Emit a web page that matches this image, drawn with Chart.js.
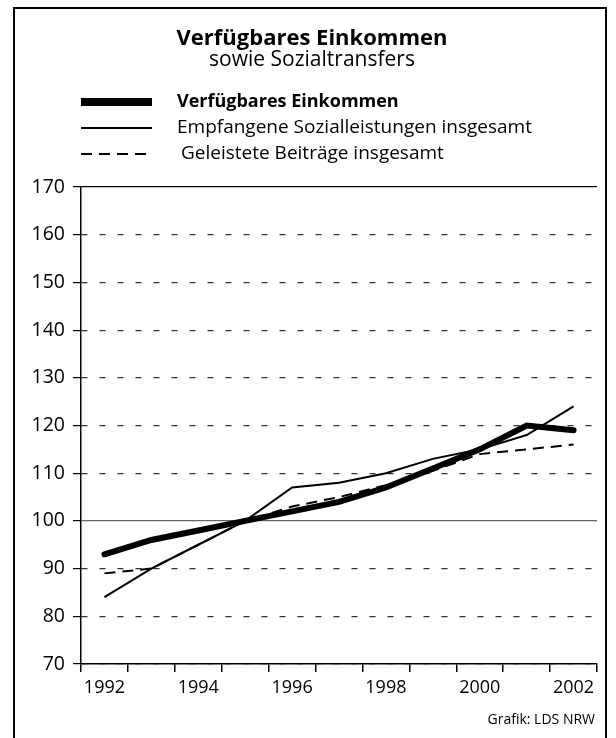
<!DOCTYPE html>
<html>
<head>
<meta charset="utf-8">
<script src="https://cdn.jsdelivr.net/npm/chart.js@4.4.1/dist/chart.umd.min.js"></script>
<style>
  html, body { margin: 0; padding: 0; background: #fff; }
  #wrap { position: relative; width: 616px; height: 738px; }
</style>
</head>
<body>
<div id="wrap"><canvas id="chart" width="616" height="738"></canvas></div>
<script>
// Verfügbares Einkommen sowie Sozialtransfers (Index, 1995 = 100)
var years = ['1992', '1993', '1994', '1995', '1996', '1997', '1998', '1999', '2000', '2001', '2002'];
var einkommen = [93, 96, 98, 100, 102, 104, 107, 111, 115, 120, 119];
var sozialleistungen = [84, 90, 95, 100, 107, 108, 110, 113, 115, 118, 124];
var beitraege = [89, 90, 95, 100, 103, 105, 107.5, 110.5, 114, 115, 116];

var seriesNames = ['Verfügbares Einkommen', 'Empfangene Sozialleistungen insgesamt', 'Geleistete Beiträge insgesamt'];
var FONT = '"Open Sans", "Liberation Sans", sans-serif';

// title, legend, footer and outer frame
var decorPlugin = {
  id: 'decor',
  beforeDraw: function(chart) {
    var ctx = chart.ctx;
    ctx.save();
    ctx.fillStyle = '#fff';
    ctx.fillRect(0, 0, chart.width, chart.height);
    ctx.restore();
  },
  afterDraw: function(chart) {
    var ctx = chart.ctx;
    ctx.save();
    // frame
    ctx.strokeStyle = '#000';
    ctx.lineWidth = 2;
    ctx.strokeRect(14, 8, 592, 740);

    ctx.fillStyle = '#000';
    ctx.textAlign = 'center';
    ctx.textBaseline = 'middle';
    ctx.font = 'bold 22px ' + FONT;
    ctx.fillText('Verfügbares Einkommen', 312, 39);
    ctx.font = '21px ' + FONT;
    ctx.fillText('sowie Sozialtransfers', 312, 60);

    // legend
    var rows = [102, 128, 154];
    var styles = [
      { w: 8, dash: [] },
      { w: 2, dash: [] },
      { w: 2, dash: [11, 7] }
    ];
    ctx.textAlign = 'left';
    for (var i = 0; i < rows.length; i++) {
      ctx.beginPath();
      ctx.lineWidth = styles[i].w;
      ctx.setLineDash(styles[i].dash);
      ctx.moveTo(81, rows[i]);
      ctx.lineTo(152, rows[i]);
      ctx.stroke();
      ctx.setLineDash([]);
      ctx.font = (i === 0 ? 'bold 18px ' : '19px ') + FONT;
      ctx.fillText(seriesNames[i], i === 2 ? 181 : 177, rows[i]);
    }

    ctx.textAlign = 'right';
    ctx.font = '14px ' + FONT;
    ctx.fillText('Grafik: LDS NRW', 595, 720);
    ctx.restore();
  }
};

new Chart(document.getElementById('chart'), {
  type: 'line',
  data: {
    labels: years,
    datasets: [{
      label: seriesNames[0],
      data: einkommen,
      borderColor: '#000',
      borderWidth: 6,
      borderCapStyle: 'round',
      pointRadius: 0,
      tension: 0
    }, {
      label: seriesNames[1],
      data: sozialleistungen,
      borderColor: '#000',
      borderWidth: 2,
      pointRadius: 0,
      tension: 0
    }, {
      label: seriesNames[2],
      data: beitraege,
      borderColor: '#000',
      borderWidth: 2,
      borderDash: [11, 7],
      pointRadius: 0,
      tension: 0
    }]
  },
  options: {
    responsive: false,
    animation: false,
    layout: { padding: { left: 15, top: 187, right: 19, bottom: 34 } },
    plugins: {
      legend: { display: false },
      tooltip: { enabled: false }
    },
    scales: {
      x: {
        offset: true,
        afterFit: function(scale) { scale.height = 40; },
        grid: {
          offset: true,
          tickLength: 8,
          tickColor: '#000',
          color: function(c) { return c.index === years.length ? '#000' : 'rgba(0,0,0,0)'; },
          lineWidth: 1.5
        },
        border: { color: '#000', width: 1.5 },
        ticks: {
          autoSkip: false,
          maxRotation: 0,
          padding: 5,
          color: '#000',
          font: { family: FONT, size: 18 },
          callback: function(v, i) { return i % 2 === 0 ? years[i] : ''; }
        }
      },
      y: {
        min: 70,
        max: 170,
        afterFit: function(scale) { scale.width = 66; },
        grid: {
          tickLength: 8,
          tickColor: '#000',
          lineWidth: 1.2,
          color: function(c) {
            if (c.tick && c.tick.value === 170) return '#000';
            if (c.tick && c.tick.value === 100) return '#666';
            return '#333';
          }
        },
        border: {
          color: '#000',
          width: 1.5,
          dash: function(c) {
            if (c.tick && (c.tick.value === 170 || c.tick.value === 100)) return [];
            return [6, 12];
          }
        },
        ticks: {
          stepSize: 10,
          padding: 8,
          color: '#000',
          font: { family: FONT, size: 19.5 }
        }
      }
    }
  },
  plugins: [decorPlugin]
});
</script>
</body>
</html>
